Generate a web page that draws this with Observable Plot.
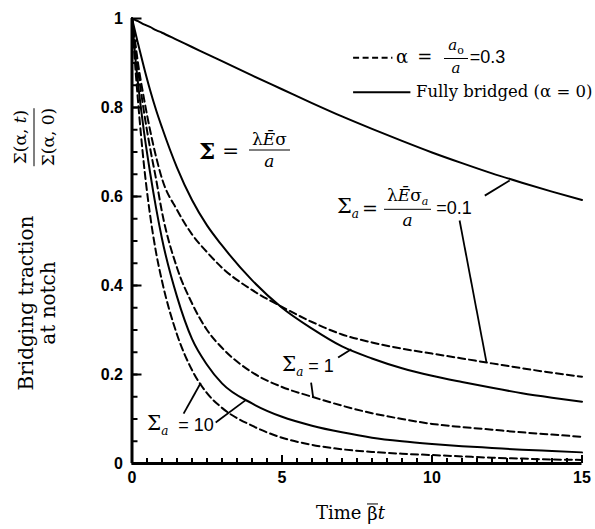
<!DOCTYPE html>
<html><head><meta charset="utf-8">
<script src="https://cdn.jsdelivr.net/npm/d3@7"></script>
<script src="https://cdn.jsdelivr.net/npm/@observablehq/plot@0.6"></script>
<style>
body{margin:0;background:#fff;}
#wrap{position:relative;width:595px;height:529px;overflow:hidden;}
.a{position:absolute;transform:translateY(-50%);display:flex;align-items:center;font-family:"DejaVu Serif",serif;white-space:nowrap;color:#000;line-height:1;}
.fr{display:inline-flex;flex-direction:column;align-items:center;margin:0 3px;}
.fr .n{border-bottom:1.6px solid #000;padding:0 3px 2px;}
.fr .d{padding-top:2px;}
.s{font-family:"Liberation Sans",sans-serif;}
.rot{position:absolute;font-family:"DejaVu Serif",serif;color:#000;white-space:nowrap;text-align:center;transform:translate(-50%,-50%) rotate(-90deg);}
.bar{display:inline-block;border-top:1.5px solid #000;line-height:0.95;padding-top:1px;}
</style></head>
<body><div id="wrap"></div>
<script>
// time grid shared by all curves
const tGrid = [0,0.1,0.2,0.4,0.6,0.8,1,1.5,2,2.5,3,4,5,6,7,8,9,10,11,12,13,14,15];
// Fully bridged (alpha = 0), solid
const full_Sa01 = [1,0.997,0.994,0.987,0.981,0.974,0.968,0.952,0.936,0.92,0.904,0.872,0.841,0.81,0.78,0.752,0.725,0.699,0.675,0.652,0.631,0.611,0.592];
const full_Sa1  = [1,0.972,0.944,0.89,0.84,0.795,0.755,0.665,0.592,0.535,0.49,0.412,0.35,0.303,0.263,0.236,0.214,0.197,0.183,0.17,0.158,0.148,0.139];
const full_Sa10 = [1,0.92,0.855,0.745,0.655,0.575,0.505,0.375,0.28,0.222,0.18,0.135,0.105,0.085,0.07,0.058,0.05,0.044,0.039,0.035,0.031,0.028,0.025];
// alpha = 0.3, dashed
const notch_Sa01 = [1,0.95,0.9,0.82,0.75,0.69,0.64,0.57,0.515,0.475,0.44,0.39,0.352,0.318,0.29,0.272,0.258,0.247,0.236,0.225,0.214,0.204,0.195];
const notch_Sa1  = [1,0.94,0.885,0.79,0.71,0.64,0.565,0.44,0.36,0.3,0.26,0.205,0.172,0.15,0.13,0.113,0.1,0.089,0.082,0.076,0.07,0.065,0.06];
const notch_Sa10 = [1,0.9,0.815,0.67,0.56,0.475,0.41,0.29,0.21,0.158,0.125,0.085,0.058,0.042,0.032,0.026,0.022,0.019,0.016,0.013,0.011,0.009,0.008];

const xTicks = [0,5,10,15];
const yTicks = [0,0.2,0.4,0.6,0.8,1];

const series = [
  {id:"full 0.1", v:full_Sa01, dashed:false},
  {id:"full 1", v:full_Sa1, dashed:false},
  {id:"full 10", v:full_Sa10, dashed:false},
  {id:"notch 0.1", v:notch_Sa01, dashed:true},
  {id:"notch 1", v:notch_Sa1, dashed:true},
  {id:"notch 10", v:notch_Sa10, dashed:true}
];
const rows = series.flatMap(s => tGrid.map((t,i) => ({t, v:s.v[i], id:s.id, dashed:s.dashed})));

// annotation leader lines and legend swatches (data units)
const leaders = [
  {x1:11.76,y1:0.602,x2:12.59,y2:0.636},
  {x1:10.92,y1:0.546,x2:11.82,y2:0.226},
  {x1:6.87,y1:0.238,x2:7.31,y2:0.257},
  {x1:5.97,y1:0.182,x2:6.04,y2:0.148},
  {x1:1.72,y1:0.112,x2:2.29,y2:0.181},
  {x1:2.79,y1:0.092,x2:3.80,y2:0.143}
];
const legendDashed = [{x1:7.37,x2:8.68,y:0.912}];
const legendSolid = [{x1:7.37,x2:9.28,y:0.834}];

const plot = Plot.plot({
  width:595, height:529,
  marginLeft:131.5, marginRight:13.5, marginTop:18, marginBottom:66,
  x:{domain:[0,15]}, y:{domain:[0,1]},
  style:{fontFamily:"Liberation Sans", fontSize:"15px", color:"#000", background:"#fff"},
  marks:[
    Plot.axisY({ticks:d3.range(0.05,1,0.05), tickSize:-6, tickFormat:()=>"", label:null, strokeWidth:2}),
    Plot.axisY({ticks:yTicks, tickSize:-10, tickPadding:19, tickFormat:d=>String(d), label:null, strokeWidth:2, fontWeight:"bold", fontSize:16}),
    Plot.axisX({ticks:d3.range(0.5,15,0.5), tickSize:-5, tickFormat:()=>"", label:null, strokeWidth:2}),
    Plot.axisX({ticks:xTicks, tickSize:-8, tickPadding:16, tickFormat:d=>String(d), label:null, strokeWidth:2, fontWeight:"bold", fontSize:16}),
    Plot.ruleY([0], {x1:0, x2:15, strokeWidth:3}),
    Plot.ruleX([0], {y1:0, y2:1, strokeWidth:3}),
    Plot.line(rows.filter(d=>!d.dashed), {x:"t", y:"v", z:"id", curve:"monotone-x", strokeWidth:2}),
    Plot.line(rows.filter(d=>d.dashed), {x:"t", y:"v", z:"id", curve:"monotone-x", strokeWidth:2, strokeDasharray:"7,4"}),
    Plot.link(leaders, {x1:"x1", y1:"y1", x2:"x2", y2:"y2", strokeWidth:1.8}),
    Plot.link(legendDashed, {x1:"x1", x2:"x2", y1:"y", y2:"y", strokeWidth:2, strokeDasharray:"6,3.5"}),
    Plot.link(legendSolid, {x1:"x1", x2:"x2", y1:"y", y2:"y", strokeWidth:2})
  ]
});
const wrap = document.getElementById("wrap");
wrap.appendChild(plot);
const ann = document.createElement("div");
ann.innerHTML = `
<div class="a" style="left:396px;top:57px;font-size:18px;">α<span style="margin:0 6px 0 9px">=</span>
  <span class="fr" style="font-size:15px;margin:0 2px 0 6px"><span class="n" style="padding:0 4px 2px"><i>a</i><sub style="font-size:11px">o</sub></span><span class="d"><i>a</i></span></span><span class="s" style="font-size:18px">=0.3</span></div>
<div class="a" style="left:416px;top:92px;font-size:16.5px;">Fully bridged (α = 0)</div>
<div class="a" style="left:199px;top:150px;"><b style="font-size:23px">Σ</b><span style="font-size:20px;margin:0 7px">=</span>
  <span class="fr" style="font-size:17px"><span class="n">λ<i>Ē</i>σ</span><span class="d"><i>a</i></span></span></div>
<div class="a" style="left:337px;top:208px;"><span style="font-size:21px">Σ<sub style="font-size:12px"><i>a</i></sub></span><span style="font-size:19px;margin:0 3px">=</span>
  <span class="fr" style="font-size:17px"><span class="n">λ<i>Ē</i>σ<sub style="font-size:11px"><i>a</i></sub></span><span class="d"><i>a</i></span></span><span class="s" style="font-size:18px;margin-left:2px">=0.1</span></div>
<div class="a" style="left:282px;top:366px;"><span style="font-size:20px">Σ<sub style="font-size:12px"><i>a</i></sub></span><span class="s" style="font-size:18px">&nbsp;= 1</span></div>
<div class="a" style="left:147px;top:425px;"><span style="font-size:20px">Σ<sub style="font-size:12px"><i>a</i></sub></span><span class="s" style="font-size:18px">&nbsp;&nbsp;= 10</span></div>
<div class="a" style="left:316px;top:513px;font-size:18px;">Time&nbsp;<span class="bar">β</span><i>t</i></div>
<div class="rot" style="left:37px;top:303px;font-size:20px;line-height:22px;">Bridging traction<br>at notch</div>
<div class="rot" style="left:34px;top:137px;font-size:17px;line-height:1;">
  <div style="display:inline-flex;flex-direction:column;align-items:center;"><span style="border-bottom:1.6px solid #000;padding:0 2px 5px">Σ(α, <i>t</i>)</span><span style="padding-top:5px">Σ(α, 0)</span></div></div>
`;
wrap.appendChild(ann);
</script>
</body></html>
